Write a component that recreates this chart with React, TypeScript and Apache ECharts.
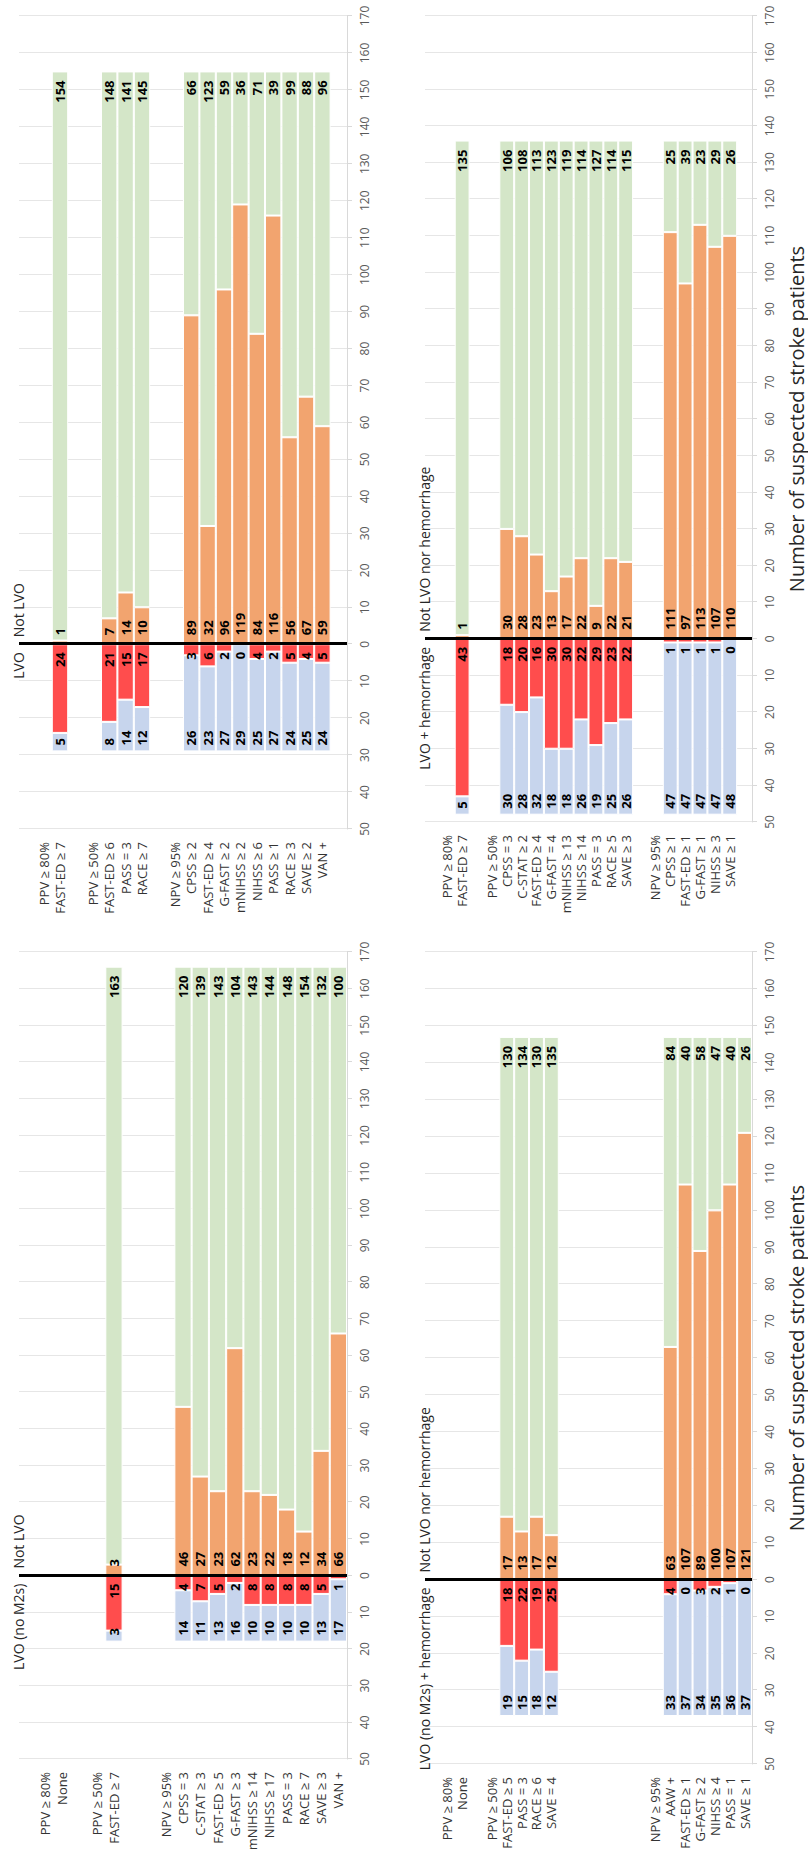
import React, { useEffect, useRef } from "react";
import * as echarts from "echarts";

// ---------- DATA ----------
// Panel: LVO (no M2s) vs Not LVO
const noM2Cats = ["", "PPV ≥ 80%", "None", "", "PPV ≥ 50%", "FAST-ED ≥ 7", "", "", "NPV ≥ 95%", "CPSS = 3", "C-STAT ≥ 3", "FAST-ED ≥ 5", "G-FAST ≥ 3", "mNIHSS ≥ 14", "NIHSS ≥ 17", "PASS = 3", "RACE ≥ 7", "SAVE ≥ 3", "VAN +"];
const noM2TP = [null, null, null, null, null, 15, null, null, null, 4, 7, 5, 2, 8, 8, 8, 8, 5, 1];
const noM2FN = [null, null, null, null, null, 3, null, null, null, 14, 11, 13, 16, 10, 10, 10, 10, 13, 17];
const noM2FP = [null, null, null, null, null, 3, null, null, null, 46, 27, 23, 62, 23, 22, 18, 12, 34, 66];
const noM2TN = [null, null, null, null, null, 163, null, null, null, 120, 139, 143, 104, 143, 144, 148, 154, 132, 100];

// Panel: LVO vs Not LVO
const lvoCats = ["", "PPV ≥ 80%", "FAST-ED ≥ 7", "", "PPV ≥ 50%", "FAST-ED ≥ 6", "PASS = 3", "RACE ≥ 7", "", "NPV ≥ 95%", "CPSS ≥ 2", "FAST-ED ≥ 4", "G-FAST ≥ 2", "mNIHSS ≥ 2", "NIHSS ≥ 6", "PASS ≥ 1", "RACE ≥ 3", "SAVE ≥ 2", "VAN +", ""];
const lvoTP = [null, null, 24, null, null, 21, 15, 17, null, null, 3, 6, 2, 0, 4, 2, 5, 4, 5, null];
const lvoFN = [null, null, 5, null, null, 8, 14, 12, null, null, 26, 23, 27, 29, 25, 27, 24, 25, 24, null];
const lvoFP = [null, null, 1, null, null, 7, 14, 10, null, null, 89, 32, 96, 119, 84, 116, 56, 67, 59, null];
const lvoTN = [null, null, 154, null, null, 148, 141, 145, null, null, 66, 123, 59, 36, 71, 39, 99, 88, 96, null];

// Panel: LVO (no M2s) + hemorrhage vs Not LVO nor hemorrhage
const noM2HemCats = ["", "PPV ≥ 80%", "None", "", "PPV ≥ 50%", "FAST-ED ≥ 5", "PASS = 3", "RACE ≥ 6", "SAVE = 4", "", "", "", "", "", "", "NPV ≥ 95%", "AAW +", "FAST-ED ≥ 1", "G-FAST ≥ 2", "NIHSS ≥ 4", "PASS = 1", "SAVE ≥ 1"];
const noM2HemTP = [null, null, null, null, null, 18, 22, 19, 25, null, null, null, null, null, null, null, 4, 0, 3, 2, 1, 0];
const noM2HemFN = [null, null, null, null, null, 19, 15, 18, 12, null, null, null, null, null, null, null, 33, 37, 34, 35, 36, 37];
const noM2HemFP = [null, null, null, null, null, 17, 13, 17, 12, null, null, null, null, null, null, null, 63, 107, 89, 100, 107, 121];
const noM2HemTN = [null, null, null, null, null, 130, 134, 130, 135, null, null, null, null, null, null, null, 84, 40, 58, 47, 40, 26];

// Panel: LVO + hemorrhage vs Not LVO nor hemorrhage
const lvoHemCats = ["", "PPV ≥ 80%", "FAST-ED ≥ 7", "", "PPV ≥ 50%", "CPSS = 3", "C-STAT ≥ 2", "FAST-ED ≥ 4", "G-FAST = 4", "mNIHSS ≥ 13", "NIHSS ≥ 14", "PASS = 3", "RACE ≥ 5", "SAVE ≥ 3", "", "NPV ≥ 95%", "CPSS ≥ 1", "FAST-ED ≥ 1", "G-FAST ≥ 1", "NIHSS ≥ 3", "SAVE ≥ 1", ""];
const lvoHemTP = [null, null, 43, null, null, 18, 20, 16, 30, 30, 22, 29, 23, 22, null, null, 1, 1, 1, 1, 0, null];
const lvoHemFN = [null, null, 5, null, null, 30, 28, 32, 18, 18, 26, 19, 25, 26, null, null, 47, 47, 47, 47, 48, null];
const lvoHemFP = [null, null, 1, null, null, 30, 28, 23, 13, 17, 22, 9, 22, 21, null, null, 111, 97, 113, 107, 110, null];
const lvoHemTN = [null, null, 135, null, null, 106, 108, 113, 123, 119, 114, 127, 114, 115, null, null, 25, 39, 23, 29, 26, null];

const axisTicksMin = -50;
const axisTicksMax = 170;
const axisStep = 10;
const axisTitle = "Number of suspected stroke patients";

// ---------- LAYOUT / STYLE ----------
const W = 1849;
const H = 808;
const FONT = "'Open Sans', 'Noto Sans', sans-serif";
const C_TP = "#ff4d4d";
const C_FN = "#c7d5ed";
const C_FP = "#f2a46f";
const C_TN = "#d4e6c8";

type Panel = {
  cats: string[];
  tp: (number | null)[];
  fn: (number | null)[];
  fp: (number | null)[];
  tn: (number | null)[];
  negTitle: string;
  posTitle: string;
  axisName: string;
  left: number;
  top: number;
  width: number;
  height: number;
};

const panels: Panel[] = [
  { cats: noM2Cats, tp: noM2TP, fn: noM2FN, fp: noM2FP, tn: noM2TN, negTitle: "LVO (no M2s)", posTitle: "Not LVO", axisName: "", left: 90, top: 19, width: 807, height: 328 },
  { cats: lvoCats, tp: lvoTP, fn: lvoFN, fp: lvoFP, tn: lvoTN, negTitle: "LVO", posTitle: "Not LVO", axisName: "", left: 1020, top: 19, width: 813, height: 328 },
  { cats: noM2HemCats, tp: noM2HemTP, fn: noM2HemFN, fp: noM2HemFP, tn: noM2HemTN, negTitle: "LVO (no M2s) + hemorrhage", posTitle: "Not LVO nor hemorrhage", axisName: axisTitle, left: 85, top: 425, width: 812, height: 327 },
  { cats: lvoHemCats, tp: lvoHemTP, fn: lvoHemFN, fp: lvoHemFP, tn: lvoHemTN, negTitle: "LVO + hemorrhage", posTitle: "Not LVO nor hemorrhage", axisName: axisTitle, left: 1027, top: 425, width: 806, height: 327 },
];

const labelFmt = (q: any) => (q.value == null ? "" : String(Math.abs(q.value)));

function buildOption() {
  const grid: any[] = [];
  const xAxis: any[] = [];
  const yAxis: any[] = [];
  const series: any[] = [];

  panels.forEach((p, i) => {
    grid.push({ left: p.left, top: p.top, width: p.width, height: p.height, containLabel: false, outerBoundsMode: "none" });
    xAxis.push({
      type: "value",
      gridIndex: i,
      min: axisTicksMin,
      max: axisTicksMax,
      interval: axisStep,
      position: "bottom",
      axisLine: { show: true, onZero: false, lineStyle: { color: "#d9d9d9", width: 1 } },
      axisTick: { show: true, length: 5, lineStyle: { color: "#d9d9d9" } },
      axisLabel: { formatter: (v: number) => String(Math.abs(v)), color: "#595959", fontSize: 12, fontFamily: FONT, margin: 11 },
      splitLine: { show: true, lineStyle: { color: "#e6e6e6", width: 1 } },
      name: p.axisName,
      nameLocation: "middle",
      nameGap: 34,
      nameTextStyle: { fontSize: 20, color: "#262626", fontFamily: FONT },
    });
    yAxis.push({
      type: "category",
      gridIndex: i,
      inverse: true,
      data: p.cats,
      axisLine: { show: false, onZero: false },
      axisTick: { show: false },
      axisLabel: { interval: 0, margin: 13, fontSize: 13, color: "#333333", fontFamily: FONT },
      splitLine: { show: false },
    });

    const mk = (name: string, data: (number | null)[], color: string, pos: string, dist: number, extra: any = {}) => ({
      type: "bar",
      name,
      xAxisIndex: i,
      yAxisIndex: i,
      stack: "s" + i,
      stackStrategy: "samesign",
      data,
      barCategoryGap: "0%",
      barGap: "-100%",
      itemStyle: { color, borderColor: "#ffffff", borderWidth: 1 },
      label: {
        show: true,
        position: pos,
        distance: dist,
        formatter: labelFmt,
        color: "#000000",
        fontWeight: "bold",
        fontSize: 13,
        fontFamily: FONT,
        textBorderWidth: 0,
      },
      emphasis: { disabled: true },
      silent: true,
      animation: false,
      ...extra,
    });

    series.push(
      mk("TP", p.tp.map((v) => (v == null ? null : -v)), C_TP, "insideRight", 8, {
        markLine: {
          silent: true,
          symbol: ["none", "none"],
          label: { show: false },
          lineStyle: { color: "#000000", width: 3, type: "solid" },
          data: [{ xAxis: 0 }],
          animation: false,
        },
      }),
      mk("FN", p.fn.map((v) => (v == null ? null : -v)), C_FN, "insideLeft", 6),
      mk("FP", p.fp, C_FP, "insideLeft", 9),
      mk("TN", p.tn, C_TN, "insideRight", 9)
    );
  });

  return {
    animation: false,
    backgroundColor: "#ffffff",
    textStyle: { fontFamily: FONT },
    grid,
    xAxis,
    yAxis,
    series,
  };
}

export default function App() {
  const ref = useRef<HTMLDivElement>(null);

  useEffect(() => {
    if (!ref.current) return;
    const chart = echarts.init(ref.current, undefined, { renderer: "svg" });
    chart.setOption(buildOption() as any);

    const graphic: any[] = [];
    panels.forEach((p, i) => {
      const zx = chart.convertToPixel({ xAxisIndex: i } as any, 0) as unknown as number;
      const ty = p.top - 1;
      graphic.push(
        {
          type: "text",
          x: zx - 8,
          y: ty,
          silent: true,
          style: { text: p.negTitle, fill: "#262626", fontSize: 14, fontFamily: FONT, align: "right", textAlign: "right", verticalAlign: "middle", textVerticalAlign: "middle" },
        },
        {
          type: "text",
          x: zx + 7,
          y: ty,
          silent: true,
          style: { text: p.posTitle, fill: "#262626", fontSize: 14, fontFamily: FONT, align: "left", textAlign: "left", verticalAlign: "middle", textVerticalAlign: "middle" },
        }
      );
    });
    chart.setOption({ graphic });

    return () => chart.dispose();
  }, []);

  return (
    <div style={{ position: "fixed", left: 0, top: 0, width: H, height: W, overflow: "hidden", background: "#ffffff" }}>
      <div
        ref={ref}
        style={{
          position: "absolute",
          left: 0,
          top: 0,
          width: W,
          height: H,
          transformOrigin: "0 0",
          transform: `translate(0px, ${W}px) rotate(-90deg)`,
        }}
      />
    </div>
  );
}
